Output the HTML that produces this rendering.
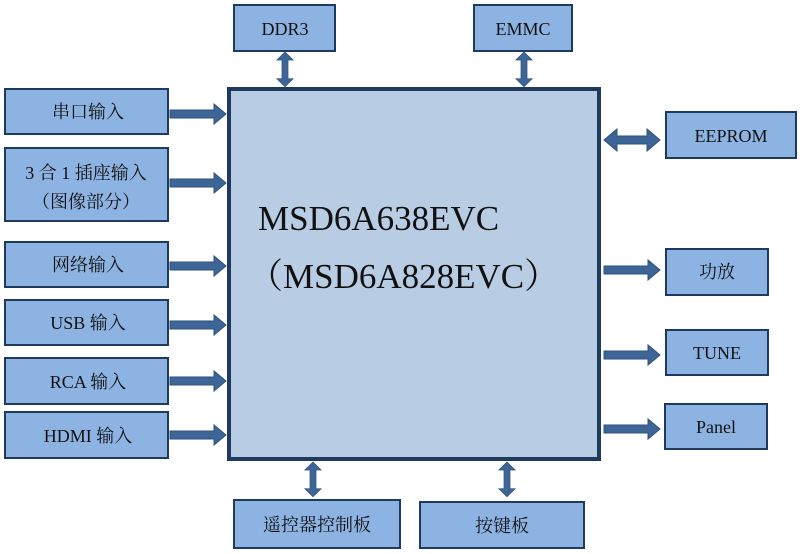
<!DOCTYPE html>
<html><head><meta charset="utf-8"><style>
html,body{margin:0;padding:0;background:#fff}
svg{display:block}
text{font-family:"Liberation Serif","Noto Serif CJK SC","Noto Sans CJK SC",serif;fill:#111}
</style></head><body>
<svg width="800" height="554" viewBox="0 0 800 554" xmlns="http://www.w3.org/2000/svg">
<defs>
<g id="ar"><polygon points="0,-4 44,-4 44,-10 56,0 44,10 44,4 0,4" fill="#3d6596" stroke="#2e5282" stroke-width="1"/></g>
<g id="dar"><polygon points="0,0 13,-11 13,-4 43,-4 43,-11 56,0 43,11 43,4 13,4 13,11" fill="#3d6596" stroke="#2e5282" stroke-width="1"/></g>
</defs>
<rect x="229" y="89" width="370" height="370" fill="#b8cce4" stroke="#1f3a5f" stroke-width="4"/>
<text x="258" y="230" font-size="35">MSD6A638EVC</text>
<text x="248" y="288" font-size="35">（MSD6A828EVC）</text>
<g fill="#8db3e2" stroke="#1f3a5f" stroke-width="2">
<rect x="234" y="5" width="101" height="46"/>
<rect x="474" y="5" width="98" height="46"/>
<rect x="5" y="89" width="163" height="45"/>
<rect x="5" y="148" width="163" height="73"/>
<rect x="5" y="242" width="163" height="45"/>
<rect x="5" y="300" width="163" height="45"/>
<rect x="5" y="358" width="163" height="46"/>
<rect x="5" y="412" width="163" height="46"/>
<rect x="666" y="112" width="130" height="46"/>
<rect x="666" y="249" width="102" height="46"/>
<rect x="666" y="330" width="102" height="45"/>
<rect x="665" y="404" width="102" height="45"/>
<rect x="234" y="500" width="166" height="48"/>
<rect x="420" y="502" width="164" height="46"/>
</g>
<g font-size="18" text-anchor="middle">
<text x="285" y="35">DDR3</text>
<text x="523" y="35">EMMC</text>
<text x="88" y="118">串口输入</text>
<text x="86" y="179">3 合 1 插座输入</text>
<text x="86" y="208">（图像部分）</text>
<text x="88" y="271">网络输入</text>
<text x="88" y="329">USB 输入</text>
<text x="88" y="388">RCA 输入</text>
<text x="88" y="442">HDMI 输入</text>
<text x="731" y="142">EEPROM</text>
<text x="717" y="278">功放</text>
<text x="717" y="359">TUNE</text>
<text x="716" y="433">Panel</text>
<text x="317" y="531">遥控器控制板</text>
<text x="502" y="532">按键板</text>
</g>
<use href="#ar" x="170" y="114"/>
<use href="#ar" x="170" y="183"/>
<use href="#ar" x="170" y="266"/>
<use href="#ar" x="170" y="325"/>
<use href="#ar" x="170" y="381"/>
<use href="#ar" x="170" y="435"/>
<use href="#ar" x="604" y="270"/>
<use href="#ar" x="604" y="355"/>
<use href="#ar" x="604" y="429"/>
<use href="#dar" x="604" y="140"/>
<use href="#dar" transform="translate(285,52) rotate(90) scale(0.62,0.75)"/>
<use href="#dar" transform="translate(524,52) rotate(90) scale(0.62,0.75)"/>
<use href="#dar" transform="translate(313,462) rotate(90) scale(0.62,0.75)"/>
<use href="#dar" transform="translate(507,462) rotate(90) scale(0.62,0.75)"/>
</svg>
</body></html>
